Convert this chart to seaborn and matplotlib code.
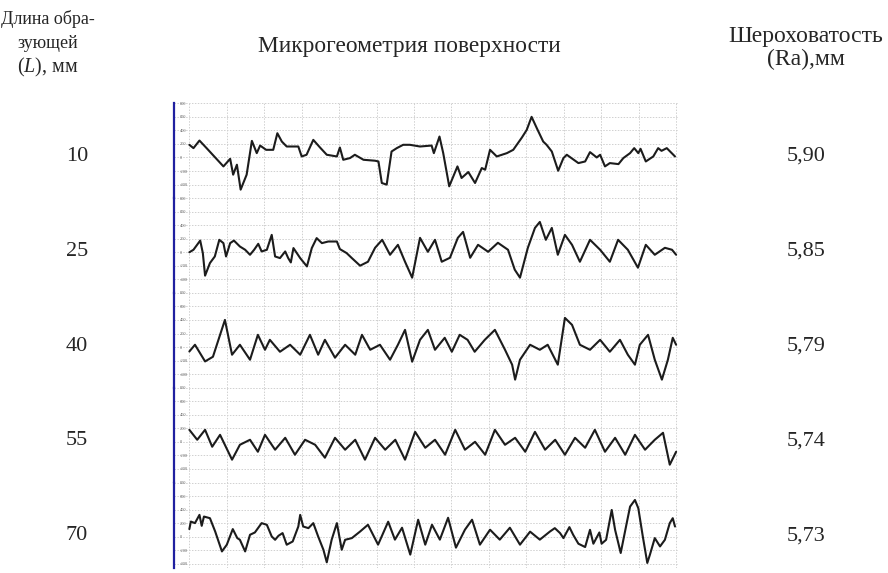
import numpy as np
import pandas as pd
import seaborn as sns
import matplotlib.pyplot as plt

sns.set_style('white')
plt.rcParams['font.family'] = ['Liberation Serif', 'DejaVu Serif']
plt.rcParams['mathtext.fontset'] = 'custom'
plt.rcParams['mathtext.rm'] = 'Liberation Serif'
plt.rcParams['mathtext.it'] = 'Liberation Serif:italic'

# Table data
lengths = ['10', '25', '40', '55', '70']
roughness = ['5,90', '5,85', '5,79', '5,74', '5,73']
tick_vals = [800, 600, 400, 200, 0, -200, -400]

# Profilograms: position along profile (grid units) and height
p1_x = [0, 0.11, 0.27, 0.46, 0.91, 1.09, 1.17, 1.27, 1.37, 1.53, 1.67, 1.80, 1.89, 2.05, 2.24, 2.35,
        2.47, 2.60, 2.78, 2.91, 3.00, 3.13, 3.31, 3.49, 3.67, 3.94, 4.02, 4.11, 4.29, 4.42, 4.65,
        4.96, 5.05, 5.14, 5.27, 5.40, 5.54, 5.71, 5.89, 6.16, 6.47, 6.53, 6.68, 6.78, 6.94, 7.16,
        7.27, 7.45, 7.63, 7.81, 7.90, 8.03, 8.21, 8.48, 8.65, 8.88, 9.01, 9.14, 9.28, 9.45, 9.54,
        9.68, 9.85, 9.99, 10.08, 10.39, 10.57, 10.70, 10.88, 10.97, 11.10, 11.23, 11.46, 11.59,
        11.77, 11.88, 11.99, 12.05, 12.19, 12.39, 12.52, 12.61, 12.75, 12.97]
p1_y = [187, 138, 250, 138, -132, -20, -254, -107, -475, -254, 245, 64, 176, 113, 113, 358,
        235, 162, 162, 162, 15, 40, 260, 147, 40, 15, 147, -34, -9, 40, -34,
        -48, -59, -377, -401, 88, 138, 187, 187, 162, 176, 64, 309, 64, -426, -132,
        -303, -215, -377, -156, -181, 113, 15, 64, 113, 294, 407, 600, 432, 235, 187,
        88, -196, -9, 40, -83, -59, 79, 0, 40, -132, -83, -98, -9,
        64, 138, 64, 128, -59, 15, 138, 98, 138, 15]

p2_x = [0, 0.11, 0.29, 0.36, 0.42, 0.55, 0.68, 0.80, 0.91, 0.98, 1.09, 1.19, 1.35, 1.49, 1.62, 1.73,
        1.84, 1.93, 2.07, 2.20, 2.29, 2.42, 2.56, 2.64, 2.71, 2.78, 2.87, 2.96, 3.14, 3.27, 3.40,
        3.54, 3.71, 3.94, 4.02, 4.20, 4.34, 4.56, 4.77, 4.96, 5.15, 5.36, 5.57, 5.76, 5.95, 6.16,
        6.37, 6.56, 6.74, 6.96, 7.17, 7.31, 7.50, 7.71, 7.98, 8.24, 8.51, 8.69, 8.83, 9.04, 9.23,
        9.36, 9.52, 9.68, 9.84, 10.03, 10.22, 10.43, 10.70, 10.97, 11.23, 11.45, 11.71, 11.98,
        12.19, 12.43, 12.70, 12.89, 13.0]
p2_y = [0, 37, 173, -12, -345, -159, -62, 184, 135, -62, 135, 173, 85, 37, -37, 37,
        125, 12, 37, 257, -62, -86, 12, -86, -150, 62, -12, -86, -209, 62, 209,
        135, 159, 159, 47, -12, -86, -198, -140, 66, 184, -37, 110, -140, -375, 213,
        7, 184, -140, -81, 213, 301, -81, 110, 7, 140, 37, -257, -375, 66, 360,
        448, 184, 360, -37, 257, 110, -140, 184, 37, -140, 184, 37, -228,
        110, -37, 66, 37, -37]

p3_x = [0, 0.15, 0.42, 0.63, 0.95, 1.14, 1.35, 1.62, 1.83, 2.02, 2.15, 2.42, 2.69, 2.96, 3.22,
        3.44, 3.62, 3.89, 4.16, 4.43, 4.61, 4.83, 5.09, 5.36, 5.57, 5.76, 5.95, 6.16, 6.37, 6.56,
        6.82, 7.01, 7.22, 7.43, 7.62, 7.89, 8.16, 8.43, 8.62, 8.70, 8.83, 9.10, 9.36, 9.57, 9.84,
        10.03, 10.22, 10.43, 10.70, 10.97, 11.23, 11.50, 11.71, 11.90, 12.03, 12.25, 12.43, 12.62,
        12.78, 12.91, 13.0]
p3_y = [-65, 34, -212, -143, 401, -113, 34, -187, 181, -40, 107, -69, 34, -113, 181,
        -113, 107, -157, 34, -113, 181, -40, 34, -187, 34, 254, -216, 107, 254, -40,
        137, -69, 181, 107, -69, 107, 254, -40, -260, -481, -187, 34, -40, 34, -260,
        431, 328, 34, -40, 107, -69, 107, -113, -260, 34, 181, -187, -481,
        -187, 137, 34]

p4_x = [0, 0.21, 0.42, 0.61, 0.82, 1.14, 1.35, 1.62, 1.83, 2.02, 2.29, 2.56, 2.82, 3.09, 3.36,
        3.62, 3.89, 4.16, 4.43, 4.69, 4.96, 5.23, 5.50, 5.76, 6.03, 6.30, 6.56, 6.83, 7.10, 7.36,
        7.63, 7.90, 8.16, 8.43, 8.70, 8.97, 9.23, 9.50, 9.77, 10.03, 10.30, 10.57, 10.83, 11.10,
        11.37, 11.64, 11.90, 12.17, 12.43, 12.65, 12.83, 13.0]
p4_y = [178, 31, 178, -72, 104, -263, -43, 31, -146, 104, -116, 60, -190, 31, -43,
        -234, 60, -116, 31, -263, 60, -116, 31, -263, 148, -87, 31, -190, 178, -116,
        1, -190, 178, -43, 60, -146, 148, -116, 31, -190, 60, -87, 178, -146,
        60, -190, 104, -116, 31, 134, -337, -146]

p5_x = [0, 0.04, 0.15, 0.27, 0.33, 0.39, 0.55, 0.69, 0.87, 1.00, 1.16, 1.28, 1.35, 1.49, 1.62,
        1.75, 1.93, 2.07, 2.20, 2.29, 2.38, 2.49, 2.60, 2.76, 2.91, 2.96, 3.04, 3.18, 3.31, 3.44,
        3.58, 3.67, 3.80, 3.94, 4.07, 4.16, 4.34, 4.56, 4.77, 5.04, 5.31, 5.49, 5.68, 5.90, 6.11,
        6.30, 6.48, 6.69, 6.91, 7.12, 7.36, 7.55, 7.76, 8.03, 8.29, 8.56, 8.83, 9.10, 9.36, 9.63,
        9.76, 9.90, 9.99, 10.15, 10.25, 10.39, 10.57, 10.70, 10.79, 10.95, 11.01, 11.13, 11.28,
        11.37, 11.52, 11.68, 11.77, 11.90, 11.99, 12.11, 12.23, 12.30, 12.43, 12.57, 12.70,
        12.83, 12.91, 12.97]
p5_y = [112, 223, 200, 322, 160, 297, 273, 76, -218, -119, 112, -21, -46, -218, 28,
        62, 200, 175, 3, -46, 13, 53, -119, -71, 150, 322, 150, 126, 200, 3,
        -193, -379, -46, 200, -193, -46, -21, 76, 176, -118, 221, -44, 132, -265, 250,
        -118, 176, -44, 279, -162, 103, 250, -118, 103, -44, 132, -118, 74, -44, 76,
        126, 53, -21, 141, 28, -104, -153, 101, -104, 62, -104, -46, 395,
        101, -241, 200, 444, 542, 420, 3, -388, -266, -21, -144, -46,
        200, 273, 150]

profiles = [(p1_x, p1_y), (p2_x, p2_y), (p3_x, p3_y), (p4_x, p4_y), (p5_x, p5_y)]

W, H = 888, 573
fig = plt.figure(figsize=(W / 100, H / 100), dpi=100)

def fy(py):
    return 1 - py / H

# strip geometry (pixels)
left_px, right_px = 174, 678
top_px, row_px = 103.3, 94.8
u_per_px = 1400 / row_px
bottom_limit_px = 568

for i, (px, py) in enumerate(profiles):
    t = top_px + row_px * i
    b = min(t + row_px, bottom_limit_px)
    ax = fig.add_axes([left_px / W, fy(b), (right_px - left_px) / W, (b - t) / H])
    ax.patch.set_alpha(0)
    df = pd.DataFrame({'x': px, 'y': py})
    sns.lineplot(data=df, x='x', y='y', ax=ax, color='#1c1c1c', lw=1.5, estimator=None)
    ax.set_xlim(-0.41, 13.05)
    ax.set_ylim(800 - (b - t) * u_per_px, 800)
    ax.set_xticks(np.arange(0, 14))
    ax.set_yticks(tick_vals)
    ax.set_yticklabels([str(v) for v in tick_vals])
    ax.tick_params(axis='y', length=0, pad=-4, labelsize=3.2, labelcolor='#666666')
    ax.tick_params(axis='x', length=0, labelbottom=False)
    for lab in ax.get_yticklabels():
        lab.set_horizontalalignment('left')
    ax.grid(True, color='#d0d0d0', linestyle=(0, (1.5, 1.5)), lw=0.7)
    ax.set_xlabel('')
    ax.set_ylabel('')
    for s in ['top', 'right', 'bottom']:
        ax.spines[s].set_visible(False)
    ax.spines['left'].set_color('#2020a0')
    ax.spines['left'].set_linewidth(1.6)

    yb = 161 + row_px * i
    fig.text(77 / W, fy(yb), lengths[i], ha='center', va='baseline', fontsize=16)
    fig.text(806 / W, fy(yb), roughness[i], ha='center', va='baseline', fontsize=16)

fig.text(48 / W, fy(24), 'Длина обра-', ha='center', va='baseline', fontsize=13)
fig.text(48 / W, fy(48), 'зующей', ha='center', va='baseline', fontsize=13)
fig.text(48 / W, fy(72), '($\\mathit{L}$), мм', ha='center', va='baseline', fontsize=14.5)
fig.text(409 / W, fy(52), 'Микрогеометрия поверхности', ha='center', va='baseline', fontsize=16.8)
fig.text(806 / W, fy(42), 'Шероховатость', ha='center', va='baseline', fontsize=17)
fig.text(806 / W, fy(65), '(Ra),мм', ha='center', va='baseline', fontsize=17)

fig.savefig('out.png', dpi=100)
